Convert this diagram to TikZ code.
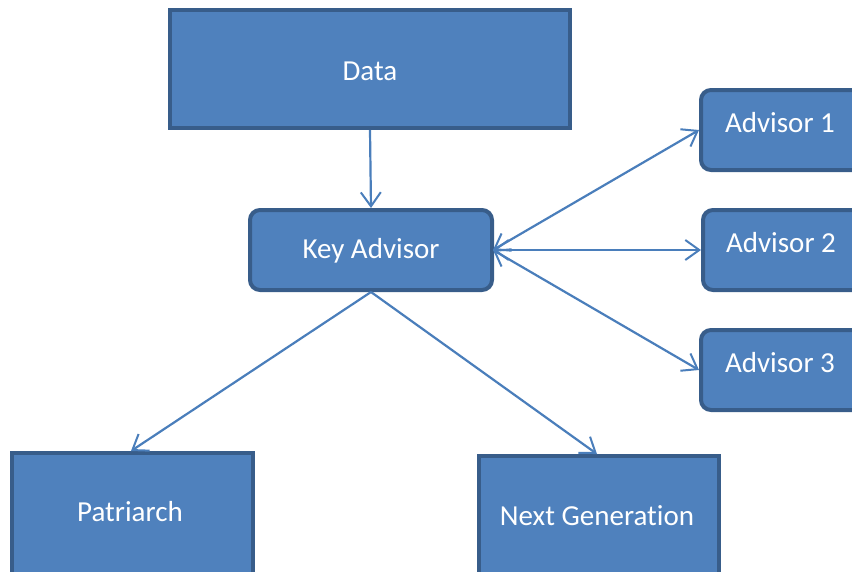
\documentclass[tikz,border=0pt]{standalone}
\usepackage{fontspec}
\setmainfont{Carlito}[Ligatures=NoCommon]
\usetikzlibrary{arrows.meta}
\definecolor{boxfill}{HTML}{4F81BD}
\definecolor{boxline}{HTML}{385D8A}
\definecolor{arr}{HTML}{4A7EBB}
\begin{document}
\begin{tikzpicture}[x=1pt,y=-1pt,
  box/.style={draw=boxline, fill=boxfill, line width=4pt},
  lbl/.style={text=white, font=\fontsize{29}{33}\selectfont, inner sep=0pt},
  conn/.style={draw=arr, line width=2.2pt, -{Straight Barb[length=14pt,width=20pt,line width=2pt]}},
  both/.style={draw=arr, line width=2.2pt, {Straight Barb[length=14pt,width=20pt,line width=2pt]}-{Straight Barb[length=14pt,width=20pt,line width=2pt]}}]
\useasboundingbox (0,0) rectangle (852,571);
\clip (0,0) rectangle (852,571);
% boxes
\node[box, minimum width=400pt, minimum height=118pt, inner sep=0pt] (data) at (370,69) {};
\node[lbl] at (370,71) {Data};
\node[box, rounded corners=10pt, minimum width=242pt, minimum height=80pt, inner sep=0pt] (key) at (371,250) {};
\node[lbl] at (371,251) {Key Advisor};
\node[box, rounded corners=10pt, minimum width=240pt, minimum height=80pt, inner sep=0pt, anchor=west] (a1) at (699,130) {};
\node[lbl] at (780,123) {Advisor 1};
\node[box, rounded corners=10pt, minimum width=240pt, minimum height=80pt, inner sep=0pt, anchor=west] (a2) at (701,250) {};
\node[lbl] at (781,243) {Advisor 2};
\node[box, rounded corners=10pt, minimum width=240pt, minimum height=80pt, inner sep=0pt, anchor=west] (a3) at (699,370) {};
\node[lbl] at (780,363) {Advisor 3};
\node[box, minimum width=241pt, minimum height=160pt, inner sep=0pt, anchor=north west] (pat) at (10,451) {};
\node[lbl] at (130,512) {Patriarch};
\node[box, minimum width=240pt, minimum height=160pt, inner sep=0pt, anchor=north west] (next) at (477,454) {};
\node[lbl] at (597,516) {Next Generation};
% connectors
\coordinate (keyR) at (493,250);
\draw[conn] (data.south) -- (key.north);
\draw[conn] (key.south) -- (131,451);
\draw[conn] (key.south) -- (597,454);
\draw[both] (keyR) -- (a1.west);
\draw[both] (keyR) -- (a2.west);
\draw[both] (keyR) -- (a3.west);
\end{tikzpicture}
\end{document}
